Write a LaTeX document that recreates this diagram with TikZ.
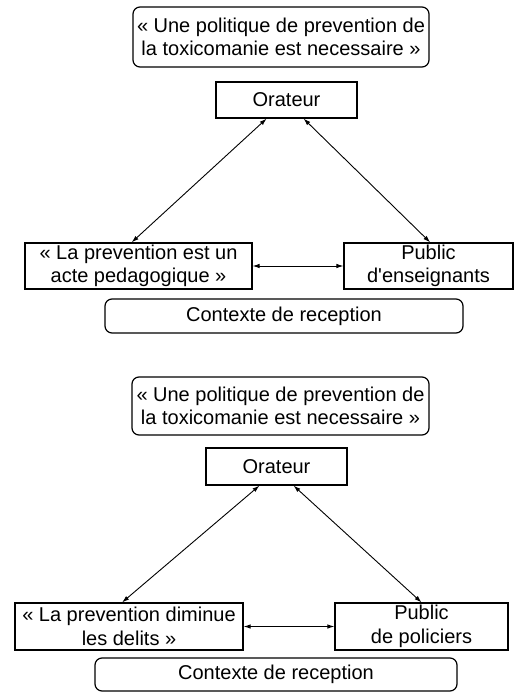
\documentclass[tikz,border=0pt]{standalone}
\usepackage{fontspec}
\setmainfont{Liberation Sans}
\usetikzlibrary{calc,arrows.meta}
\begin{document}
\begin{tikzpicture}[x=1pt,y=-1pt,
  every node/.style={font=\fontsize{20}{23.5}\selectfont, align=center, inner sep=0pt},
  squarebox/.style={draw, line width=1.2pt, minimum height=#1},
  roundbox/.style={draw, line width=1.2pt, rounded corners=7pt, minimum height=#1},
  link/.style={line width=0.9pt, {Latex[length=7pt,width=4.5pt]}-{Latex[length=7pt,width=4.5pt]}}
]
\useasboundingbox (0,0) rectangle (531,692);

% first scheme: audience of teachers
\node[roundbox=60pt, minimum width=296pt] (q1) at (281,37)
  {« Une politique de prevention de\\la toxicomanie est necessaire »};
\node[squarebox=36pt, minimum width=141pt] (o1) at (286.5,100) {Orateur};
\node[squarebox=46pt, minimum width=227pt] (l1) at (138.5,266)
  {« La prevention est un\\acte pedagogique »};
\node[squarebox=46pt, minimum width=169pt] (r1) at (428.5,266)
  {Public\\d\textquotesingle enseignants};
\node[roundbox=34pt, minimum width=358pt] (c1) at (284,316) {Contexte de reception};

\draw[link] ($(o1.south west)!0.36!(o1.south east)$) -- ($(l1.north west)!0.47!(l1.north east)$);
\draw[link] ($(o1.south west)!0.62!(o1.south east)$) -- ($(r1.north west)!0.51!(r1.north east)$);
\draw[link] (l1.east) -- (r1.west);

% second scheme: audience of police officers
\node[roundbox=58pt, minimum width=297pt] (q2) at (280.5,406)
  {« Une politique de prevention de\\la toxicomanie est necessaire »};
\node[squarebox=37pt, minimum width=141pt] (o2) at (276.5,466.5) {Orateur};
\node[squarebox=47pt, minimum width=228pt] (l2) at (129,626.5)
  {« La prevention diminue\\les delits »};
\node[squarebox=47pt, minimum width=173pt] (r2) at (421.5,626.5)
  {Public\\de policiers};
\node[roundbox=33pt, minimum width=362pt] (c2) at (276,674.5) {Contexte de reception};

\draw[link] ($(o2.south west)!0.38!(o2.south east)$) -- ($(l2.north west)!0.47!(l2.north east)$);
\draw[link] ($(o2.south west)!0.62!(o2.south east)$) -- ($(r2.north west)!0.5!(r2.north east)$);
\draw[link] (l2.east) -- (r2.west);
\end{tikzpicture}
\end{document}
